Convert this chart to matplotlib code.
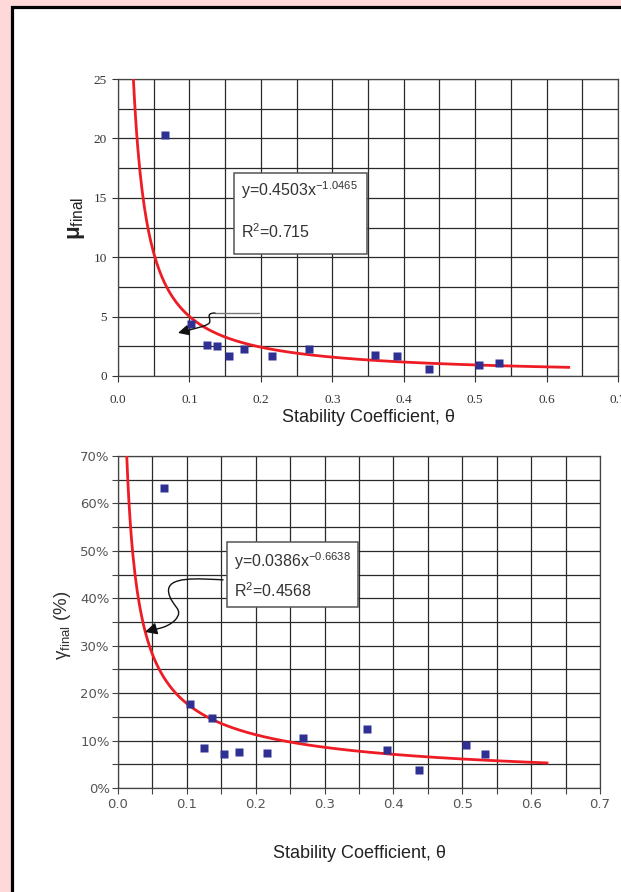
import numpy as np
from matplotlib import pyplot as plt
from matplotlib.patches import Rectangle, FancyArrowPatch
from matplotlib.path import Path
from matplotlib.ticker import MultipleLocator, PercentFormatter

plt.rcParams['mathtext.fontset'] = 'custom'
plt.rcParams['mathtext.rm'] = 'Liberation Sans'
plt.rcParams['mathtext.it'] = 'Liberation Sans:italic'
plt.rcParams['mathtext.bf'] = 'Liberation Sans:bold'

# data
theta_mu = [0.066, 0.102, 0.1245, 0.1385, 0.155, 0.176, 0.215, 0.267, 0.360, 0.391, 0.436, 0.505, 0.533]
mu_final = [20.3, 4.4, 2.6, 2.5, 1.7, 2.3, 1.7, 2.3, 1.8, 1.7, 0.6, 0.9, 1.1]

theta_gam = [0.067, 0.1045, 0.125, 0.137, 0.154, 0.175, 0.216, 0.2685, 0.362, 0.391, 0.437, 0.506, 0.533]
gamma_final = [0.632, 0.177, 0.084, 0.148, 0.072, 0.075, 0.073, 0.105, 0.124, 0.080, 0.038, 0.091, 0.072]

# power trendlines y = a*x^b
mu_a, mu_b = 0.4503, -1.0465
mu_r2 = 0.715
mu_fit_range = [0.0215, 0.631]
gam_a, gam_b = 0.0386, -0.6638
gam_r2 = 0.4568
gam_fit_range = [0.0127, 0.623]

W, H = 621, 892
pink = '#ffd9d9'
navy = '#2e3192'
red = '#ee1c24'
grid_c = '#2a2a2a'

fig = plt.figure(figsize=(W / 100, H / 100), dpi=100, facecolor=pink)
# white panel with black frame
fig.patches.append(Rectangle((11.5 / W, -0.1), 1.2, 1.1 - 6.5 / H, transform=fig.transFigure,
                             facecolor='white', edgecolor='black', lw=2.3, zorder=-10))


def style_grid(ax):
    ax.set_facecolor('none')
    ax.grid(True, which='both', color=grid_c, lw=0.9)
    ax.set_axisbelow(True)
    for s in ax.spines.values():
        s.set_color('#444444')
        s.set_linewidth(0.9)


# ---------------- top plot ----------------
ax1 = fig.add_axes([118 / W, 1 - 376 / H, 500 / W, 297 / H])
ax1.set_xlim(0, 0.7)
ax1.set_ylim(0, 25)
ax1.xaxis.set_major_locator(MultipleLocator(0.1))
ax1.xaxis.set_minor_locator(MultipleLocator(0.05))
ax1.yaxis.set_major_locator(MultipleLocator(5))
ax1.yaxis.set_minor_locator(MultipleLocator(2.5))
style_grid(ax1)
ax1.tick_params(which='major', direction='out', length=4, width=0.8, color='#333333',
                labelsize=9.5, labelcolor='#333333', pad=9)
ax1.tick_params(which='minor', length=0)
ax1.set_xticks(np.arange(0, 0.71, 0.1))
ax1.set_xticklabels(['%.1f' % v for v in np.arange(0, 0.71, 0.1)], family='Liberation Serif')
ax1.set_yticks(np.arange(0, 26, 5))
ax1.set_yticklabels(['%d' % v for v in np.arange(0, 26, 5)], family='Liberation Serif')
ax1.tick_params(axis='y', pad=4)

x = np.linspace(mu_fit_range[0], mu_fit_range[1], 400)
ax1.plot(x, mu_a * x ** mu_b, color=red, lw=2, zorder=3, clip_on=True)
ax1.plot(theta_mu, mu_final, 's', color=navy, ms=6, mec='none', zorder=4)

ax1.set_xlabel('Stability Coefficient, $\\mathrm{\\theta}$', fontsize=13, family='Liberation Sans',
               color='#222222')
ax1.xaxis.set_label_coords(0.5, -0.105)
ax1.set_ylabel('$\\mathbf{\\mu}_{\\mathrm{final}}$', fontsize=16, color='#222222')
ax1.yaxis.set_label_coords(-0.062, 0.53)

ax1.add_patch(Rectangle((0.232, 0.411), 0.266, 0.273, transform=ax1.transAxes,
                        facecolor='white', edgecolor='#555555', lw=1.1, zorder=5))
ax1.text(0.246, 0.625, 'y=%.4fx$^{%.4f}$' % (mu_a, mu_b), transform=ax1.transAxes,
         fontsize=11.5, color='#333333', va='center', zorder=6, family='Liberation Sans')
ax1.text(0.246, 0.485, 'R$^{2}$=%.3f' % mu_r2, transform=ax1.transAxes,
         fontsize=11.5, color='#333333', va='center', zorder=6, family='Liberation Sans')
ax1.plot([0.282, 0.194], [0.212, 0.212], transform=ax1.transAxes, color='#777777', lw=1, zorder=5)
p1 = Path([(0.194, 0.212), (0.170, 0.212), (0.192, 0.185), (0.180, 0.175),
           (0.170, 0.165), (0.160, 0.163), (0.120, 0.145)],
          [Path.MOVETO, Path.CURVE4, Path.CURVE4, Path.CURVE4,
           Path.CURVE4, Path.CURVE4, Path.CURVE4])
ax1.add_patch(FancyArrowPatch(path=p1, transform=ax1.transAxes, arrowstyle='-|>',
                              mutation_scale=16, color='#111111', lw=1, zorder=6))

# ---------------- bottom plot ----------------
ax2 = fig.add_axes([118 / W, 1 - 788 / H, 482 / W, 332 / H])
ax2.set_xlim(0, 0.7)
ax2.set_ylim(0, 0.7)
ax2.xaxis.set_major_locator(MultipleLocator(0.1))
ax2.xaxis.set_minor_locator(MultipleLocator(0.05))
ax2.yaxis.set_major_locator(MultipleLocator(0.1))
ax2.yaxis.set_minor_locator(MultipleLocator(0.05))
ax2.yaxis.set_major_formatter(PercentFormatter(1.0, decimals=0))
ax2.xaxis.set_major_formatter(plt.FuncFormatter(lambda v, p: '%.1f' % v))
style_grid(ax2)
ax2.tick_params(which='both', direction='out', length=4, width=0.8, color='#444444',
                labelsize=9.5, labelcolor='#555555')
ax2.tick_params(axis='x', pad=3)
ax2.tick_params(axis='y', pad=2)

x = np.linspace(gam_fit_range[0], gam_fit_range[1], 400)
ax2.plot(x, gam_a * x ** gam_b, color=red, lw=2, zorder=3)
ax2.plot(theta_gam, gamma_final, 's', color=navy, ms=6, mec='none', zorder=4)

ax2.set_xlabel('Stability Coefficient, $\\mathrm{\\theta}$', fontsize=13, family='Liberation Sans',
               color='#222222')
ax2.xaxis.set_label_coords(0.5, -0.165)
ax2.set_ylabel('$\\mathrm{\\gamma}_{\\mathrm{final}}$ (%)', fontsize=13.5, color='#333333',
               family='Liberation Sans')
ax2.yaxis.set_label_coords(-0.093, 0.49)

ax2.add_patch(Rectangle((0.226, 0.545), 0.272, 0.196, transform=ax2.transAxes,
                        facecolor='white', edgecolor='#555555', lw=1.1, zorder=5))
ax2.text(0.241, 0.683, 'y=%.4fx$^{%.4f}$' % (gam_a, gam_b), transform=ax2.transAxes,
         fontsize=11.5, color='#333333', va='center', zorder=6, family='Liberation Sans')
ax2.text(0.241, 0.595, 'R$^{2}$=%.4f' % gam_r2, transform=ax2.transAxes,
         fontsize=11.5, color='#333333', va='center', zorder=6, family='Liberation Sans')
p2 = Path([(0.218, 0.627), (0.17, 0.630), (0.10, 0.640), (0.105, 0.590),
           (0.11, 0.545), (0.14, 0.540), (0.118, 0.505),
           (0.10, 0.48), (0.075, 0.478), (0.056, 0.470)],
          [Path.MOVETO, Path.CURVE4, Path.CURVE4, Path.CURVE4,
           Path.CURVE4, Path.CURVE4, Path.CURVE4,
           Path.CURVE4, Path.CURVE4, Path.CURVE4])
ax2.add_patch(FancyArrowPatch(path=p2, transform=ax2.transAxes, arrowstyle='-|>',
                              mutation_scale=18, color='#111111', lw=1, zorder=6))

fig.savefig('out.png', dpi=100, facecolor=pink)
